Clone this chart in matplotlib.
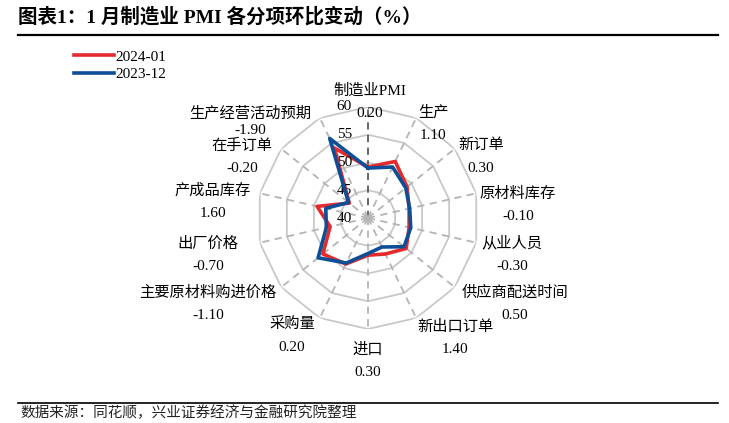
import numpy as np
import matplotlib
matplotlib.use('Agg')
import matplotlib.pyplot as plt
from matplotlib.lines import Line2D

plt.rcParams['font.family'] = ['Liberation Serif', 'Noto Sans CJK SC']

# Chart data
categories = ['制造业PMI', '生产', '新订单', '原材料库存', '从业人员', '供应商配送时间',
              '新出口订单', '进口', '采购量', '主要原材料购进价格', '出厂价格',
              '产成品库存', '在手订单', '生产经营活动预期']
pmi_2024_01 = [49.2, 51.3, 49.0, 47.6, 47.6, 48.8, 47.2, 46.7, 49.2, 50.4, 47.0, 49.4, 44.3, 54.0]
pmi_2023_12 = [49.0, 50.2, 48.7, 47.7, 47.9, 48.3, 45.8, 46.4, 49.0, 51.5, 47.7, 47.8, 44.5, 55.9]
changes = ['0.20', '1.10', '0.30', '-0.10', '-0.30', '0.50', '1.40', '0.30', '0.20',
           '-1.10', '-0.70', '1.60', '-0.20', '-1.90']
ring_values = [40, 45, 50, 55, 60]

# label centres (pixel offsets from the radar centre) and gap between the two lines
label_offsets = [(2, 116), (65, 94), (113, 61), (150, 13), (144, -37), (147, -86),
                 (87, -120), (0, -143), (-76, -118), (-160, -86), (-160, -37),
                 (-155, 16), (-126, 61), (-118, 96)]
line_gaps = [23] * 13 + [17]

red = '#E42A2C'
blue = '#0E4E97'

fig = plt.figure(figsize=(7.29, 4.23), dpi=100)
W, H = 729, 423
cx, cy, R = 368, 218, 111
ax = fig.add_axes([(cx - R) / W, (H - cy - R) / H, 2 * R / W, 2 * R / H], projection='polar')
ax.set_theta_zero_location('N')
ax.set_theta_direction(-1)
ax.set_ylim(40, 60)
ax.grid(False)
ax.spines['polar'].set_visible(False)
ax.set_xticks([])
ax.set_yticks([])
ax.patch.set_alpha(0)

n = len(categories)
angles = np.linspace(0, 2 * np.pi, n, endpoint=False)
closed = np.append(angles, angles[0])

# rings
for v in ring_values[1:]:
    ax.plot(closed, [v] * (n + 1), color='#c8c8c8', lw=1.3, zorder=1)

# spokes
for i, a in enumerate(angles):
    c = '#5a5a5a' if i == 0 else '#b4b4b4'
    ax.plot([a, a], [40, 60], color=c, lw=1.3, ls=(0, (4, 3)), zorder=1)

# series
ax.plot(closed, pmi_2024_01 + pmi_2024_01[:1], color=red, lw=2.6, zorder=3)
ax.plot(closed, pmi_2023_12 + pmi_2023_12[:1], color=blue, lw=2.6, zorder=4)

# radial labels
for v in ring_values:
    ax.annotate(str(v), xy=(0, v), xytext=(-16, 0), textcoords='offset pixels',
                ha='right', va='center', fontsize=11, annotation_clip=False)

# category labels (name above, month-on-month change below)
for cat, ch, (dx, dy), gap in zip(categories, changes, label_offsets, line_gaps):
    ax.annotate(cat, xy=(0, 40), xytext=(dx, dy + gap / 2), textcoords='offset pixels',
                ha='center', va='center', fontsize=11, annotation_clip=False)
    ax.annotate(ch, xy=(0, 40), xytext=(dx, dy - gap / 2), textcoords='offset pixels',
                ha='center', va='center', fontsize=11, annotation_clip=False)

# legend
handles = [Line2D([], [], color=red, lw=2.6), Line2D([], [], color=blue, lw=2.6)]
fig.legend(handles, ['2024-01', '2023-12'], loc='upper left',
           bbox_to_anchor=(68 / W, 1 - 44 / H), frameon=False, fontsize=11,
           handlelength=2.6, handletextpad=0.1, labelspacing=0.25, borderaxespad=0)

# title, rules and source
fig.text(18 / W, 1 - 17 / H, '图表1：1 月制造业 PMI 各分项环比变动（%）', ha='left', va='center',
         fontsize=14, fontweight='bold')
fig.add_artist(Line2D([18 / W, 718 / W], [1 - 35 / H, 1 - 35 / H], color='black', lw=1.6))
fig.add_artist(Line2D([18 / W, 718 / W], [1 - 403 / H, 1 - 403 / H], color='black', lw=1.2))
fig.text(20 / W, 1 - 413 / H, '数据来源：同花顺，兴业证券经济与金融研究院整理', ha='left', va='center',
         fontsize=10.5, family=['Noto Sans CJK SC'], color='#222222')

fig.savefig('out.png', dpi=100)
